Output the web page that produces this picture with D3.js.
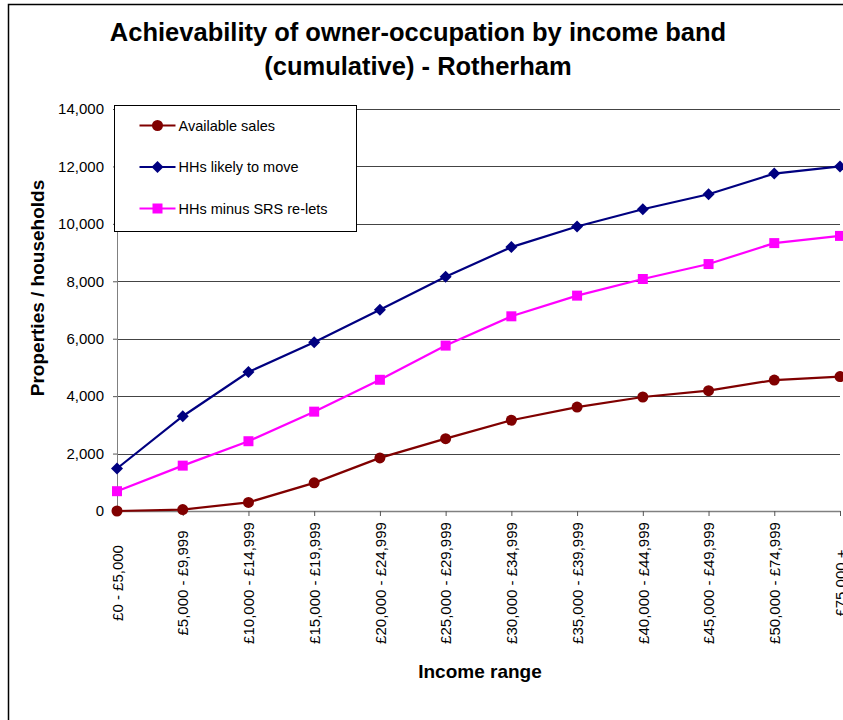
<!DOCTYPE html>
<html>
<head>
<meta charset="utf-8">
<script src="https://cdn.jsdelivr.net/npm/d3@7"></script>
<style>
  body { margin: 0; background: #fff; }
  text { font-family: "Liberation Sans", Arial, sans-serif; fill: #000; }
</style>
</head>
<body>
<div id="chart"></div>
<script>
    // Data
    const incomeBands = [
        "£0 - £5,000", "£5,000 - £9,999", "£10,000 - £14,999", "£15,000 - £19,999",
        "£20,000 - £24,999", "£25,000 - £29,999", "£30,000 - £34,999", "£35,000 - £39,999",
        "£40,000 - £44,999", "£45,000 - £49,999", "£50,000 - £74,999", "£75,000 +"
    ];
    const availableSales = [0, 50, 300, 980, 1850, 2520, 3160, 3620, 3970, 4190, 4560, 4680];
    const hhsLikelyToMove = [1480, 3300, 4840, 5880, 7010, 8160, 9190, 9910, 10510, 11030, 11750, 12000];
    const hhsMinusReLets = [690, 1580, 2430, 3460, 4570, 5760, 6780, 7500, 8080, 8600, 9330, 9580];
    const yTicks = [0, 2000, 4000, 6000, 8000, 10000, 12000, 14000];
    const seriesNames = ["Available sales", "HHs likely to move", "HHs minus SRS re-lets"];

    const W = 843, H = 720;
    const margin = { top: 109, right: 3, bottom: 209, left: 117 };
    const width = W - margin.left - margin.right;
    const height = H - margin.top - margin.bottom;

    const svg = d3.select("#chart")
        .append("svg")
        .attr("width", W)
        .attr("height", H);

    // chart border (runs off the right and bottom)
    svg.append("rect")
        .attr("x", 8.5).attr("y", 4.5)
        .attr("width", 900).attr("height", 800)
        .attr("fill", "none")
        .attr("stroke", "#000")
        .attr("stroke-width", 1.5);

    // Title
    const title = svg.append("text")
        .attr("text-anchor", "middle")
        .style("font-size", "25.5px")
        .style("font-weight", "bold");
    title.append("tspan").attr("x", 418).attr("y", 41).text("Achievability of owner-occupation by income band");
    title.append("tspan").attr("x", 418).attr("y", 75).text("(cumulative) - Rotherham");

    const g = svg.append("g")
        .attr("transform", `translate(${margin.left},${margin.top})`);

    const x = d3.scalePoint().domain(incomeBands).range([0, width]);
    const y = d3.scaleLinear().domain([0, 14000]).range([height, 0]);

    // gridlines
    g.append("g")
        .selectAll("line")
        .data(yTicks.filter(d => d > 0))
        .enter().append("line")
        .attr("x1", 0).attr("x2", width)
        .attr("y1", d => Math.round(y(d)) + 0.5)
        .attr("y2", d => Math.round(y(d)) + 0.5)
        .attr("stroke", "#444")
        .attr("stroke-width", 1);

    // Y axis
    const yAxis = g.append("g")
        .call(d3.axisLeft(y).tickValues(yTicks).tickFormat(d3.format(",")).tickSize(4).tickPadding(9));
    yAxis.select(".domain").attr("stroke", "#808080");
    yAxis.selectAll(".tick line").attr("stroke", "#555");
    yAxis.selectAll("text").style("font-size", "15px").attr("fill", "#111");

    // X axis
    const xAxis = g.append("g")
        .attr("transform", `translate(0,${height})`)
        .call(d3.axisBottom(x).tickSize(5).tickSizeOuter(0));
    xAxis.select(".domain").attr("stroke", "#808080").attr("stroke-width", 1.5);
    xAxis.selectAll(".tick line").attr("stroke", "#555");
    xAxis.selectAll("text")
        .style("font-size", "15px")
        .attr("fill", "#111")
        .attr("text-anchor", "middle")
        .attr("dy", "0.35em")
        .attr("x", 0)
        .attr("y", 0)
        .attr("transform", "translate(0,72) rotate(-90)");

    // axis titles
    svg.append("text")
        .attr("transform", "translate(44,288) rotate(-90)")
        .attr("text-anchor", "middle")
        .style("font-size", "19px")
        .style("font-weight", "bold")
        .text("Properties / households");

    svg.append("text")
        .attr("x", 480).attr("y", 678)
        .attr("text-anchor", "middle")
        .style("font-size", "19px")
        .style("font-weight", "bold")
        .text("Income range");

    // diamond markers are squares turned by 45 degrees
    const series = [
        { name: seriesNames[0], values: availableSales, color: "#800000", symbol: d3.symbolCircle, size: 95, rot: 0 },
        { name: seriesNames[1], values: hhsLikelyToMove, color: "#000080", symbol: d3.symbolSquare, size: 72, rot: 45 },
        { name: seriesNames[2], values: hhsMinusReLets, color: "#FF00FF", symbol: d3.symbolSquare, size: 100, rot: 0 }
    ];

    const line = d3.line()
        .x((d, i) => x(incomeBands[i]))
        .y(d => y(d));

    series.forEach(s => {
        g.append("path")
            .datum(s.values)
            .attr("fill", "none")
            .attr("stroke", s.color)
            .attr("stroke-width", 2.2)
            .attr("d", line);

        g.selectAll(null)
            .data(s.values)
            .enter().append("path")
            .attr("d", d3.symbol().type(s.symbol).size(s.size))
            .attr("transform", (d, i) => `translate(${x(incomeBands[i])},${y(d)}) rotate(${s.rot})`)
            .attr("fill", s.color);
    });

    // Legend
    const legend = svg.append("g").attr("transform", "translate(114.5,105.5)");
    legend.append("rect")
        .attr("width", 242).attr("height", 126)
        .attr("fill", "#fff")
        .attr("stroke", "#000")
        .attr("stroke-width", 1);

    const legendItems = legend.selectAll(".item")
        .data(series)
        .enter().append("g")
        .attr("class", "item")
        .attr("transform", (d, i) => `translate(0,${20 + i * 41.5})`);

    legendItems.append("line")
        .attr("x1", 25).attr("x2", 61)
        .attr("stroke", d => d.color)
        .attr("stroke-width", 2.2);

    legendItems.append("path")
        .attr("d", d => d3.symbol().type(d.symbol).size(d.size)())
        .attr("transform", d => `translate(43,0) rotate(${d.rot})`)
        .attr("fill", d => d.color);

    legendItems.append("text")
        .attr("x", 64)
        .attr("dy", "0.35em")
        .style("font-size", "14.5px")
        .text(d => d.name);
</script>
</body>
</html>
